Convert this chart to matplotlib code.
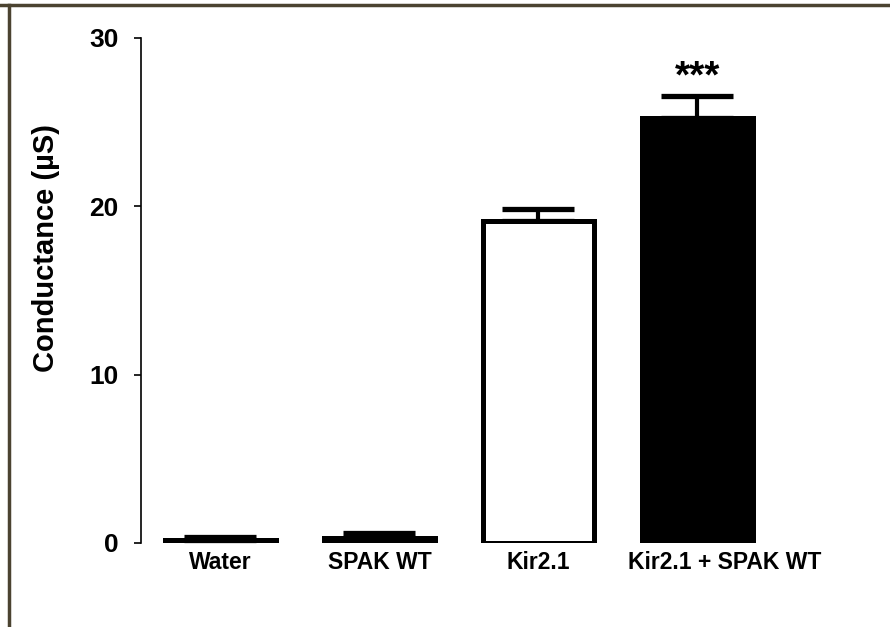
import numpy as np
import matplotlib
matplotlib.use("Agg")
from matplotlib import pyplot as plt
from matplotlib.lines import Line2D
from matplotlib.transforms import ScaledTranslation

# conductance per injection group
groups = ["Water", "SPAK WT", "Kir2.1", "Kir2.1 + SPAK WT"]
means = [0.15, 0.3, 19.1, 25.25]
sems = [0.2, 0.3, 0.75, 1.3]
fills = ["white", "black", "white", "black"]
stars = ["", "", "", "***"]

plt.rcParams["font.family"] = ["Liberation Sans", "DejaVu Sans"]

fig = plt.figure(figsize=(8.9, 6.27), dpi=100)
ax = fig.add_axes([0.1584, 0.134, 0.7146, 0.8054])

x = np.arange(len(groups))
# upward error only, drawn under the bars
ax.errorbar(x, means, yerr=[np.zeros(len(sems)), sems], fmt="none",
            ecolor="black", elinewidth=3, capsize=26, capthick=3.8, zorder=1)
ax.bar(x, means, width=0.7, color=fills, edgecolor="black", linewidth=3.6, zorder=2)

for xi, m, s, st in zip(x, means, sems, stars):
    if st:
        ax.text(xi, m + s + 0.05, st, ha="center", va="bottom",
                fontsize=28, fontweight="bold")

ax.set_xlim(-0.5, 3.5)
ax.set_ylim(0, 30)
ax.set_yticks([0, 10, 20, 30])
ax.set_xticks(x)
ax.set_xticklabels(groups, fontsize=16.5, fontweight="bold")
ax.tick_params(axis="x", length=0, pad=6)
ax.tick_params(axis="y", length=5, width=1.2, labelsize=19, pad=11)
for lab in ax.get_yticklabels():
    lab.set_fontweight("bold")
ax.set_ylabel("Conductance (µS)", fontsize=21, fontweight="bold")
ax.yaxis.set_label_coords(-0.127, 0.584)

# last group label sits a little right of its bar
last = ax.get_xticklabels()[-1]
last.set_transform(last.get_transform() + ScaledTranslation(27 / 100, 0, fig.dpi_scale_trans))

for side in ["top", "right", "bottom"]:
    ax.spines[side].set_visible(False)
ax.spines["left"].set_linewidth(1.2)

# border lines along the top and left edge of the figure
fig.add_artist(Line2D([0, 1], [1 - 4.5 / 627, 1 - 4.5 / 627], transform=fig.transFigure,
                      color="#4b4331", linewidth=2.5))
fig.add_artist(Line2D([9 / 890, 9 / 890], [0, 1 - 4.5 / 627], transform=fig.transFigure,
                      color="#4b4331", linewidth=2.5))

fig.savefig("out.png", dpi=100)
